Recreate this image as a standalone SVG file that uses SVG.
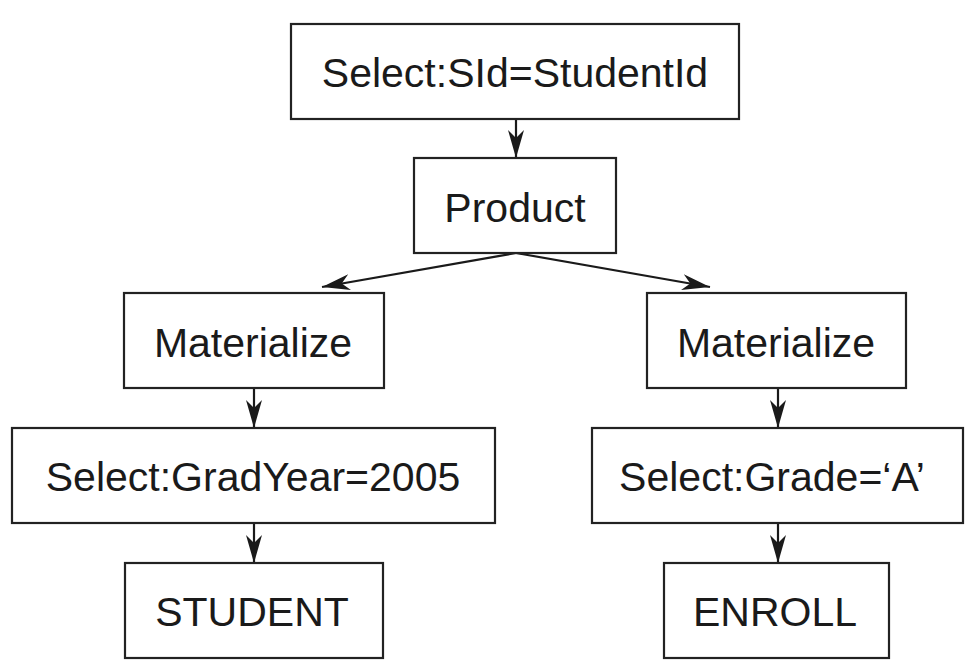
<svg xmlns="http://www.w3.org/2000/svg" width="972" height="670" viewBox="0 0 972 670">
<style>
.box rect{fill:#fff;stroke:#222;stroke-width:2.2}
.box text{font-family:"Liberation Sans",Arial,sans-serif;font-size:41px;fill:#1a1a1a;text-anchor:middle}
.conn line{stroke:#1a1a1a;stroke-width:2.2}
</style>
<defs>
<marker id="arr" markerUnits="userSpaceOnUse" viewBox="0 0 28 16" refX="28" refY="8" markerWidth="28" markerHeight="16" orient="auto">
<path d="M0,0 L28,8 L0,16 L8,8 Z" fill="#1a1a1a"/>
</marker>
</defs>
<rect width="972" height="670" fill="#fff"/>
<g class="conn">
<line x1="516" y1="119" x2="516" y2="158" marker-end="url(#arr)"/>
<line x1="516" y1="253" x2="322" y2="287" marker-end="url(#arr)"/>
<line x1="516" y1="253" x2="710" y2="287" marker-end="url(#arr)"/>
<line x1="254" y1="388" x2="254" y2="428" marker-end="url(#arr)"/>
<line x1="254" y1="523" x2="254" y2="563" marker-end="url(#arr)"/>
<line x1="778" y1="388" x2="778" y2="428" marker-end="url(#arr)"/>
<line x1="778" y1="523" x2="778" y2="563" marker-end="url(#arr)"/>
</g>
<g id="select-sid" class="box"><rect x="291" y="24" width="448" height="95"/><text x="515" y="87">Select:SId=StudentId</text></g>
<g id="product" class="box"><rect x="414" y="158" width="202" height="95"/><text x="515" y="222">Product</text></g>
<g id="materialize-left" class="box"><rect x="124" y="293" width="260" height="95"/><text x="253" y="357">Materialize</text></g>
<g id="materialize-right" class="box"><rect x="647" y="293" width="259" height="95"/><text x="776" y="357">Materialize</text></g>
<g id="select-gradyear" class="box"><rect x="12" y="428" width="483" height="95"/><text x="253" y="491">Select:GradYear=2005</text></g>
<g id="select-grade" class="box"><rect x="592" y="428" width="371" height="95"/><text x="772" y="491">Select:Grade=‘A’</text></g>
<g id="student" class="box"><rect x="125" y="563" width="258" height="95"/><text x="252" y="626">STUDENT</text></g>
<g id="enroll" class="box"><rect x="664" y="563" width="225" height="95"/><text x="775" y="626">ENROLL</text></g>
</svg>
